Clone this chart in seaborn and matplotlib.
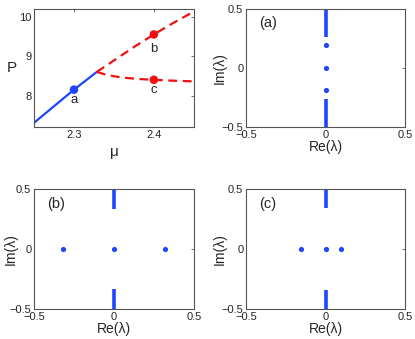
import numpy as np
import pandas as pd
import matplotlib
matplotlib.use("Agg")
import matplotlib.pyplot as plt
import seaborn as sns

# bifurcation diagram: P vs mu
mu_stable = [2.25, 2.3, 2.3286]
p_stable = [7.31, 8.15, 8.60]
mu_upper = [2.3286, 2.35, 2.375, 2.4, 2.425, 2.45]
p_upper = [8.60, 8.89, 9.23, 9.55, 9.85, 10.13]
mu_lower = [2.3286, 2.34, 2.35, 2.36, 2.375, 2.39, 2.4, 2.42, 2.45]
p_lower = [8.60, 8.53, 8.49, 8.46, 8.43, 8.41, 8.40, 8.38, 8.36]
mu_points = [2.3, 2.4, 2.4]
p_points = [8.15, 9.55, 8.40]
point_labels = ["a", "b", "c"]
label_p = [7.88, 9.17, 8.13]

# spectra for the three marked solutions
panel_names = ["(a)", "(b)", "(c)"]
band_edge = [0.263, 0.335, 0.34]
eig_re = [[0, 0, 0], [-0.319, 0, 0.319], [-0.153, 0, 0.098]]
eig_im = [[0.194, 0, -0.185], [0, 0, 0], [0, 0, 0]]

blue = "#1f45ff"
red = "#f01010"
edge = "#555555"

sns.set_theme(style="white")
plt.rcParams["font.family"] = ["Liberation Sans", "DejaVu Sans"]

fig = plt.figure(figsize=(4.15, 3.39), dpi=100)
ax0 = fig.add_axes([0.082, 0.625, 0.385, 0.349])
ax1 = fig.add_axes([0.593, 0.625, 0.383, 0.348])
ax2 = fig.add_axes([0.082, 0.088, 0.385, 0.354])
ax3 = fig.add_axes([0.593, 0.088, 0.383, 0.354])


def style_axes(ax):
    for s in ax.spines.values():
        s.set_color(edge)
        s.set_linewidth(0.8)
    ax.tick_params(direction="in", length=2.5, width=0.6, color=edge,
                   top=True, right=True, labelsize=8, pad=2)


# top-left bifurcation panel
sns.lineplot(x=mu_stable, y=p_stable, ax=ax0, color=blue, lw=1.6,
             estimator=None, sort=False)
sns.lineplot(x=mu_upper, y=p_upper, ax=ax0, color=red, lw=1.6,
             estimator=None, sort=False)
sns.lineplot(x=mu_lower, y=p_lower, ax=ax0, color=red, lw=1.6,
             estimator=None, sort=False)
for ln in ax0.lines[1:]:
    ln.set_dashes([4, 2.5])
sns.scatterplot(x=mu_points, y=p_points, ax=ax0, s=38, linewidth=0,
                palette=[blue, red, red], hue=point_labels, legend=False,
                zorder=3)
for m, p, t in zip(mu_points, label_p, point_labels):
    ax0.text(m, p, t, ha="center", va="center", fontsize=9.5)
ax0.set_xlim(2.25, 2.45)
ax0.set_ylim(7.2, 10.2)
ax0.set_xticks([2.3, 2.4])
ax0.set_yticks([8, 9, 10])
ax0.set_xlabel("μ", fontsize=11, labelpad=4)
ax0.set_ylabel("P", fontsize=11, rotation=0, va="center", ha="center")
ax0.yaxis.set_label_coords(-0.14, 0.5)
style_axes(ax0)

# spectra panels
label_x = {ax1: -0.12, ax2: -0.10, ax3: -0.12}
for ax, name, b, xr, yi in zip([ax1, ax2, ax3], panel_names, band_edge,
                                eig_re, eig_im):
    ax.plot([0, 0], [b, 0.5], color=blue, lw=2.6, solid_capstyle="butt")
    ax.plot([0, 0], [-0.5, -b], color=blue, lw=2.6, solid_capstyle="butt")
    sns.scatterplot(x=xr, y=yi, ax=ax, color=blue, s=14, linewidth=0,
                    zorder=3)
    ax.set_xlim(-0.5, 0.5)
    ax.set_ylim(-0.5, 0.5)
    ax.set_xticks([-0.5, 0, 0.5])
    ax.set_yticks([-0.5, 0, 0.5])
    ax.set_xticklabels(["\u22120.5", "0", "0.5"])
    ax.set_yticklabels(["\u22120.5", "0", "0.5"])
    ax.set_xlabel("Re(λ)", fontsize=10, labelpad=0)
    ax.set_ylabel("Im(λ)", fontsize=10)
    ax.yaxis.set_label_coords(label_x[ax], 0.5)
    ax.text(0.08, 0.88, name, transform=ax.transAxes, fontsize=10.5,
            ha="left", va="center")
    style_axes(ax)

fig.savefig("out.png", dpi=100)
